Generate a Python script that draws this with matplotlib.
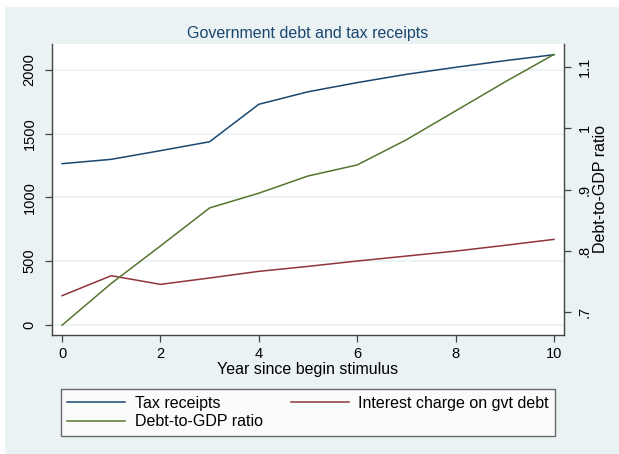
import matplotlib
matplotlib.use("Agg")
import matplotlib.pyplot as plt
from matplotlib.patches import Rectangle

years = [0, 1, 2, 3, 4, 5, 6, 7, 8, 9, 10]
tax_receipts = [1264, 1298, 1366, 1436, 1730, 1828, 1900, 1965, 2020, 2072, 2119]
interest_charge = [228, 385, 317, 367, 419, 458, 500, 539, 578, 623, 670]
debt_to_gdp = [0.679, 0.747, 0.808, 0.870, 0.894, 0.922, 0.940, 0.981, 1.028, 1.075, 1.120]

left_ticks = [0, 500, 1000, 1500, 2000]
right_ticks = [0.7, 0.8, 0.9, 1.0, 1.1]
right_ticklabels = [".7", ".8", ".9", "1", "1.1"]
x_ticks = [0, 2, 4, 6, 8, 10]

BG = "#eaf2f3"
C_TAX = "#1a476f"
C_INT = "#90353b"
C_DEBT = "#55752f"
SPINE = "#444444"
FS = 11.5
TFS = 10.5

plt.rcParams['font.family'] = ['Liberation Sans', 'DejaVu Sans']

W, H = 619, 454
fig = plt.figure(figsize=(W / 100, H / 100), dpi=100)
fig.patch.set_facecolor("white")
fig.patches.append(Rectangle((5 / W, 0), 1 - 5 / W, 1 - 7 / H, transform=fig.transFigure,
                             facecolor=BG, edgecolor="none", zorder=-10))

ax = fig.add_axes([52 / W, 1 - 334.7 / H, (564 - 52) / W, (334.7 - 44) / H])
ax.set_facecolor("white")
ax.plot(years, tax_receipts, color=C_TAX, lw=1.1, label="Tax receipts", zorder=3)
ax.plot(years, interest_charge, color=C_INT, lw=1.1, label="Interest charge on gvt debt", zorder=3)
ax.set_xlim(-0.204, 10.204)
ax.set_ylim(-78, 2203)
ax.set_yticks(left_ticks)
ax.set_yticklabels([str(v) for v in left_ticks], rotation=90, va="center")
ax.set_xticks(x_ticks)
for v in left_ticks:
    ax.axhline(v, color=BG, lw=1.2, zorder=1)
for s in ["top", "right"]:
    ax.spines[s].set_visible(False)
for s in ["left", "bottom"]:
    ax.spines[s].set_color(SPINE)
    ax.spines[s].set_linewidth(1.0)
ax.tick_params(axis="both", direction="out", length=5, width=0.9, color=SPINE,
               labelsize=TFS, labelcolor="black")
ax.tick_params(axis="y", pad=6)
ax.set_xlabel("Year since begin stimulus", fontsize=FS, labelpad=1)

ax2 = ax.twinx()
ax2.plot(years, debt_to_gdp, color=C_DEBT, lw=1.1, label="Debt-to-GDP ratio", zorder=3)
ax2.set_ylim(0.6635, 1.137)
ax2.set_yticks(right_ticks)
ax2.set_yticklabels(right_ticklabels, rotation=90, va="center")
for s in ["top", "left", "bottom"]:
    ax2.spines[s].set_visible(False)
ax2.spines["right"].set_color(SPINE)
ax2.spines["right"].set_linewidth(1.0)
ax2.tick_params(axis="y", direction="out", length=5, width=0.9, color=SPINE,
                labelsize=TFS, labelcolor="black", pad=5)
ax2.set_ylabel("Debt-to-GDP ratio", fontsize=FS)
ax2.yaxis.set_label_coords(1.057, 0.5)

ax.set_title("Government debt and tax receipts", fontsize=FS, color=C_TAX, pad=4)

h1, l1 = ax.get_legend_handles_labels()
h2, l2 = ax2.get_legend_handles_labels()
handles = [h1[0], h2[0], h1[1]]
labels = [l1[0], l2[0], l1[1]]
leg = fig.legend(handles, labels, ncol=2, mode="expand",
                 bbox_to_anchor=(61 / W, 1 - 435.5 / H, (555 - 61) / W, 49.5 / H),
                 loc="lower left", fontsize=FS, frameon=True, fancybox=False,
                 handlelength=3.63, handletextpad=0.58, borderpad=0.4,
                 labelspacing=0.22, columnspacing=1.5, borderaxespad=0)
leg.get_frame().set_edgecolor(SPINE)
leg.get_frame().set_linewidth(1.0)

fig.savefig("out.png", dpi=100)
